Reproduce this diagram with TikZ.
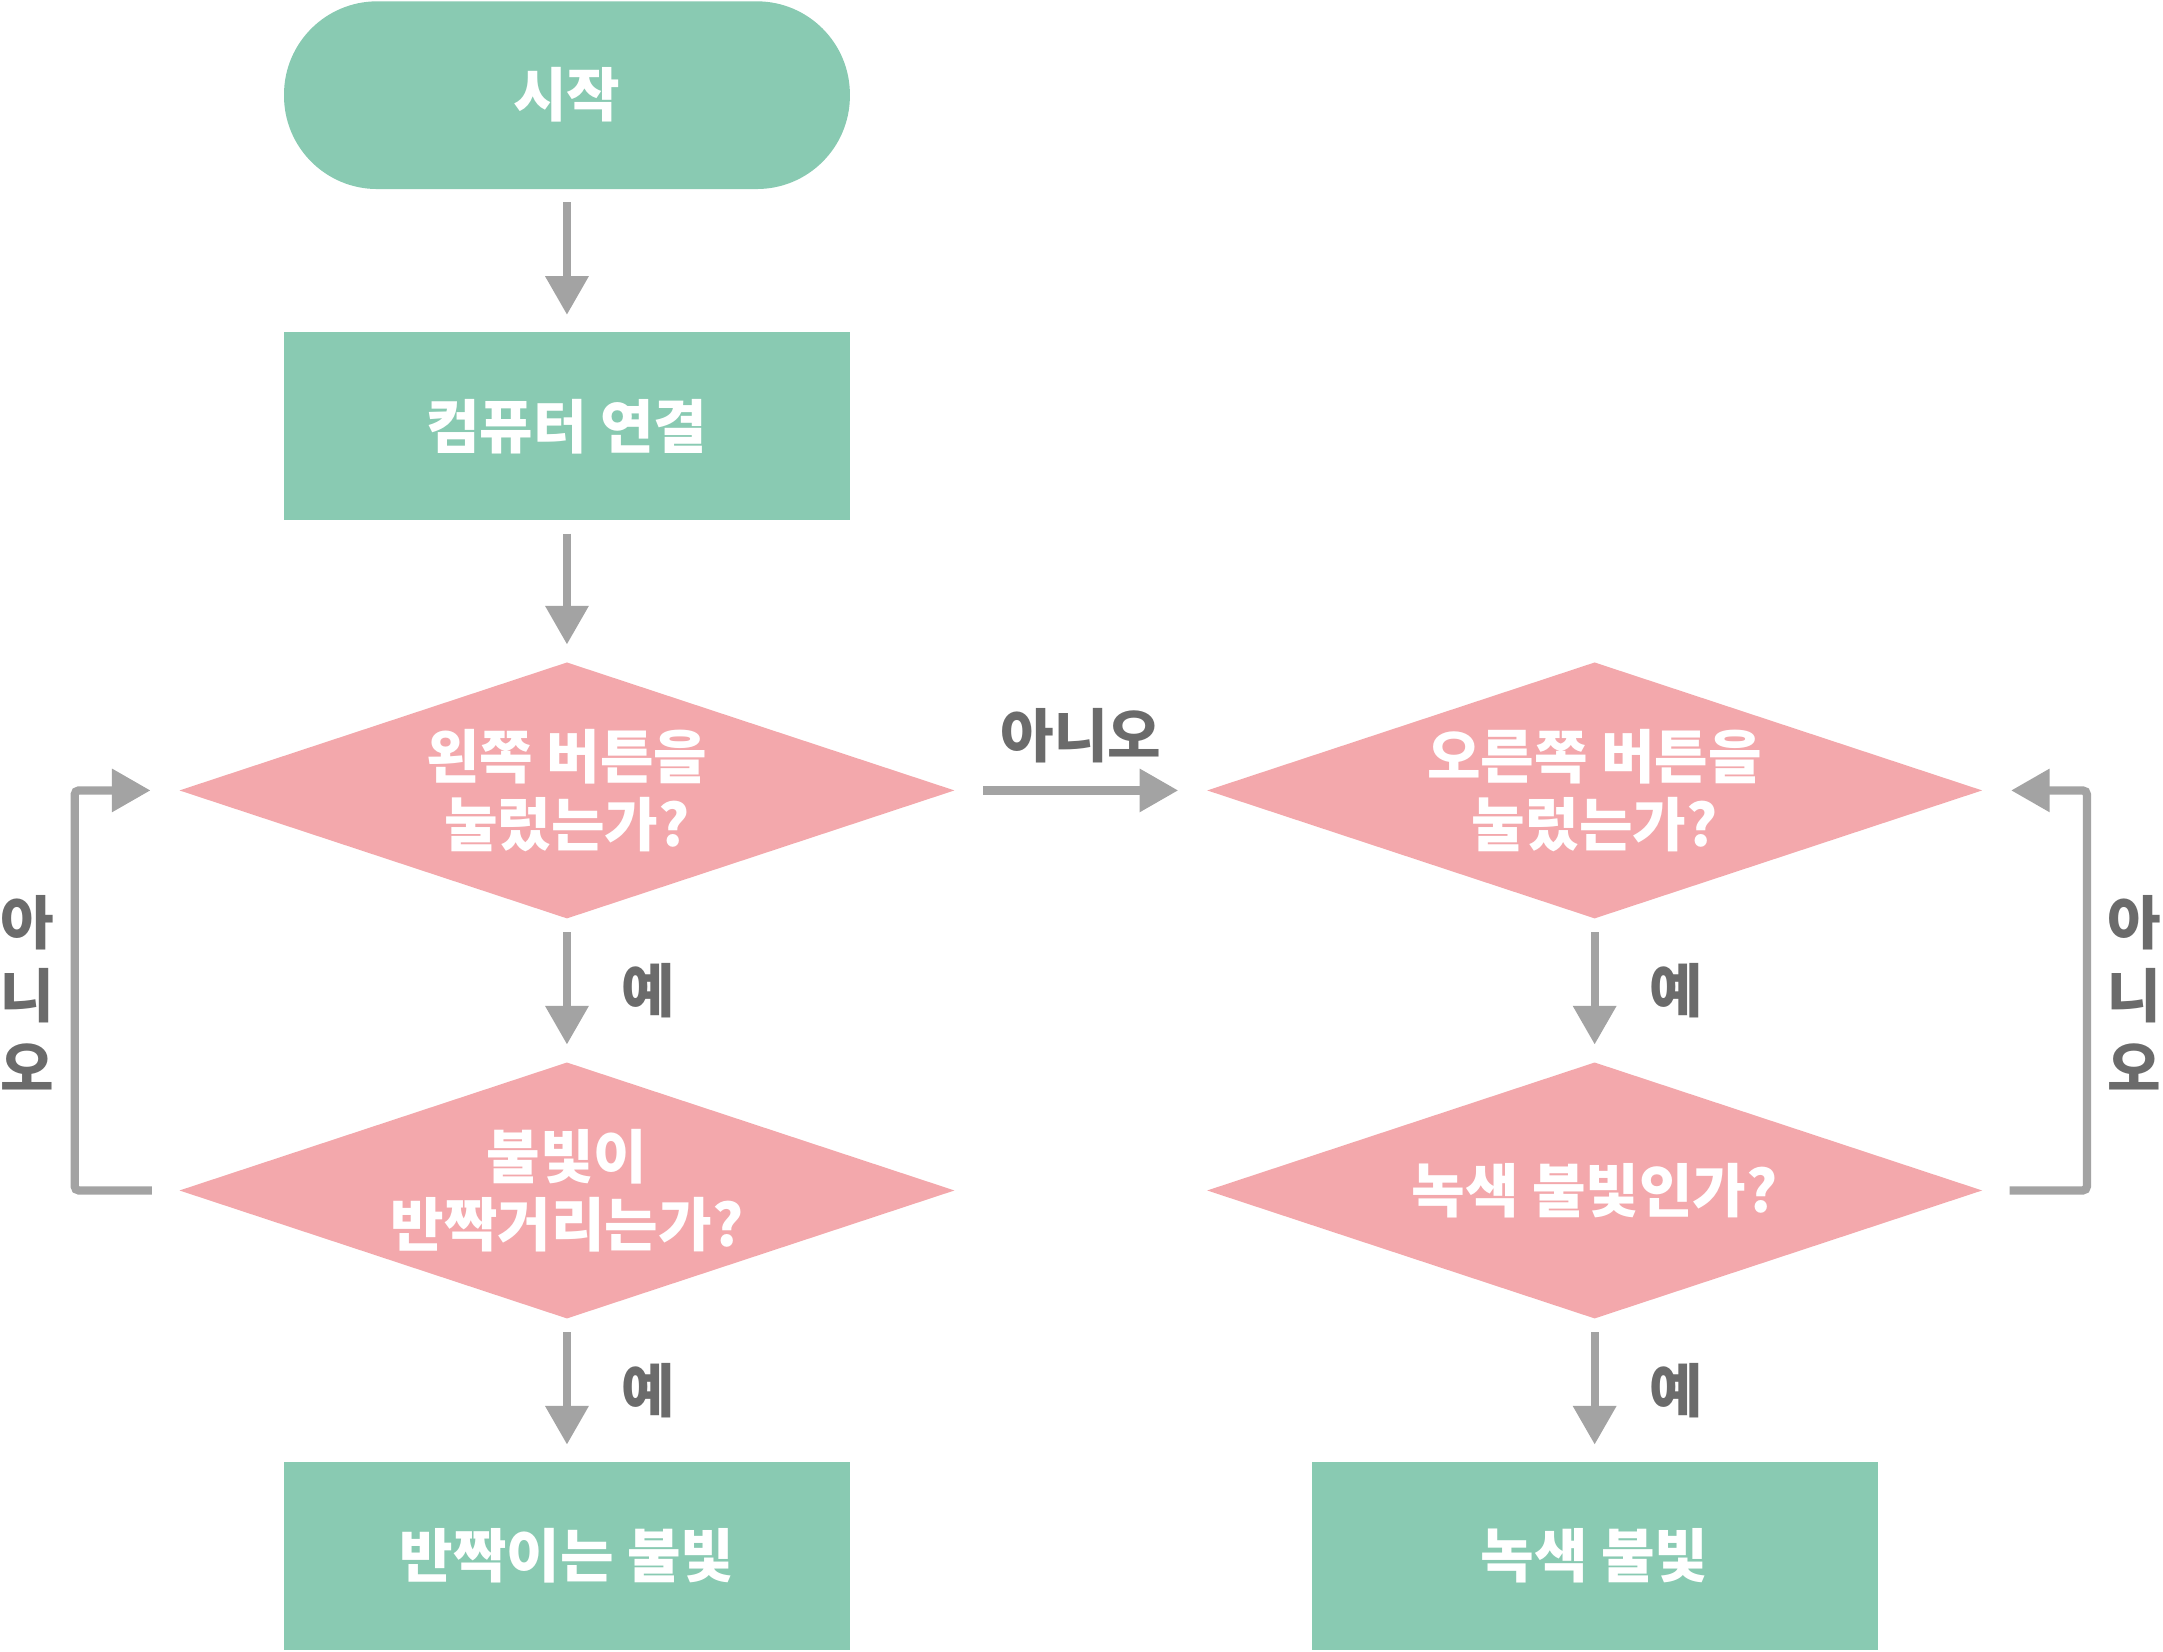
\documentclass[tikz,border=0pt]{standalone}
\usepackage{fontspec}
\setmainfont{Noto Sans CJK KR}
\usetikzlibrary{shapes.geometric,arrows.meta}
\definecolor{boxgreen}{HTML}{89CAB2}
\definecolor{diapink}{HTML}{F3A8AC}
\definecolor{arrgray}{HTML}{A3A3A3}
\definecolor{labgray}{HTML}{6B6B6B}
\begin{document}
\begin{tikzpicture}[x=0.01cm,y=-0.01cm,
  startbox/.style={rectangle,rounded corners=0.675cm,fill=boxgreen,minimum width=4.1cm,minimum height=1.36cm,font=\fontsize{12}{15}\selectfont\bfseries,text=white},
  procbox/.style={rectangle,fill=boxgreen,minimum width=4.1cm,minimum height=1.36cm,font=\fontsize{12}{15}\selectfont\bfseries,text=white},
  decbox/.style={diamond,aspect=3.04,fill=diapink,minimum width=5.62cm,minimum height=1.86cm,inner sep=0pt,align=center,font=\fontsize{12}{14}\selectfont\bfseries,text=white},
  flow/.style={arrgray,line width=0.06cm,-{Triangle[width=0.3cm,length=0.28cm]},shorten <=0.09cm,shorten >=0.12cm},
  lab/.style={text=labgray,font=\fontsize{12}{15}\selectfont\bfseries}]
\useasboundingbox (0,0) rectangle (1568,1197);
\node [startbox] (start) at (411,69) {시작};
\node [procbox] (connect) at (411,309) {컴퓨터 연결};
\node [decbox] (leftq) at (411,573) {왼쪽 버튼을\\눌렀는가?};
\node [decbox] (blinkq) at (411,863) {불빛이\\반짝거리는가?};
\node [procbox] (blink) at (411,1128) {반짝이는 불빛};
\node [decbox] (rightq) at (1156,573) {오른쪽 버튼을\\눌렀는가?};
\node [decbox] (greenq) at (1156,863) {녹색 불빛인가?};
\node [procbox] (green) at (1156,1128) {녹색 불빛};
\draw [flow] (start) -- (connect);
\draw [flow] (connect) -- (leftq);
\draw [flow] (leftq) -- node [lab,right=0.25cm] {예} (blinkq);
\draw [flow] (blinkq) -- node [lab,right=0.25cm] {예} (blink);
\draw [flow] (rightq) -- node [lab,right=0.25cm] {예} (greenq);
\draw [flow] (greenq) -- node [lab,right=0.25cm] {예} (green);
\draw [flow,shorten <=0.2cm,shorten >=0.2cm] (leftq.east) -- node [lab,above=0.05cm] {아니오} (rightq.west);
\draw [flow,shorten <=0.19cm,shorten >=0.2cm,rounded corners=0.03cm] (blinkq.west) -- ++(-75,0) |- (leftq.west);
\draw [flow,shorten <=0.19cm,shorten >=0.2cm,rounded corners=0.03cm] (greenq.east) -- ++(75,0) |- (rightq.east);
\node [lab,align=center,inner sep=0pt] (leftno) at (20,720) {아\\니\\오};
\node [lab,align=center,inner sep=0pt] (rightno) at (1547,720) {아\\니\\오};
\end{tikzpicture}
\end{document}
